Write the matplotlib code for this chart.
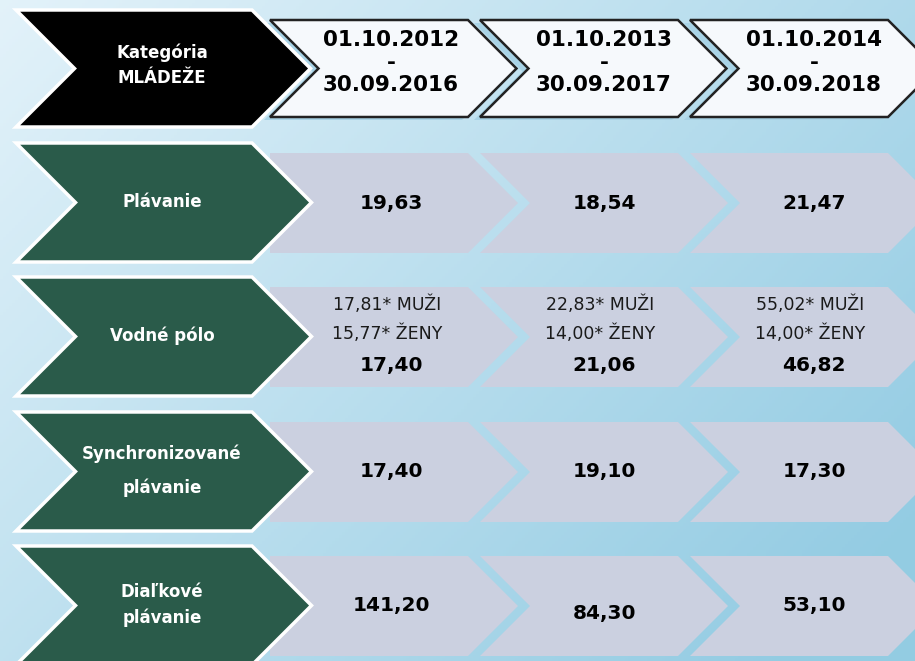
import numpy as np
import matplotlib.pyplot as plt
from matplotlib.patches import Polygon

# --- data ---
corner_label = ["Kategória", "MLÁDEŽE"]
periods = [("01.10.2012", "30.09.2016"),
           ("01.10.2013", "30.09.2017"),
           ("01.10.2014", "30.09.2018")]
sports = ["Plávanie", "Vodné pólo", "Synchronizované\nplávanie", "Diaľkové\nplávanie"]
totals = [["19,63", "18,54", "21,47"],
          ["17,40", "21,06", "46,82"],
          ["17,40", "19,10", "17,30"],
          ["141,20", "84,30", "53,10"]]
polo_men = ["17,81* MUŽI", "22,83* MUŽI", "55,02* MUŽI"]
polo_women = ["15,77* ŽENY", "14,00* ŽENY", "14,00* ŽENY"]

W, H = 915, 661
GREEN = "#2a5b4a"
GRAY = "#cbd0e0"
FONT = "DejaVu Sans"


def chevron(x0, y0, w, h, notch=True):
    # x0 = top-left corner, w = top edge length, tip sticks out by h/2
    d = h / 2
    pts = [(x0, y0), (x0 + w, y0), (x0 + w + d, y0 + d), (x0 + w, y0 + h), (x0, y0 + h)]
    if notch:
        pts.append((x0 + d, y0 + d))
    return pts


fig = plt.figure(figsize=(W / 100, H / 100), dpi=100)
ax = fig.add_axes([0, 0, 1, 1])
ax.set_xlim(0, W)
ax.set_ylim(H, 0)
ax.axis("off")

# background gradient
xx, yy = np.meshgrid(np.linspace(0, 1, 300), np.linspace(0, 1, 220))
t = np.clip(0.65 * xx + 0.45 * yy, 0, 1)[..., None]
c0 = np.array([0.89, 0.95, 0.98])
c1 = np.array([0.58, 0.80, 0.89])
ax.imshow(c0 * (1 - t) + c1 * t, extent=[0, W, H, 0], aspect="auto", zorder=0)

col_x = [270, 480, 690]
col_w = 198
text_cx = [391, 604, 814]

# header row
ax.add_patch(Polygon(chevron(16, 10, 236, 117), closed=True, fc="black", ec="white", lw=2.5, zorder=3))
ax.text(162, 53, corner_label[0], color="white", fontsize=12, fontweight="bold", family=FONT,
        ha="center", va="center", zorder=5)
ax.text(162, 78, corner_label[1], color="white", fontsize=12, fontweight="bold", family=FONT,
        ha="center", va="center", zorder=5)
for i, (a, b) in enumerate(periods):
    ax.add_patch(Polygon(chevron(col_x[i] - 6, 23, col_w, 97), closed=True, fc="#a8d3e6", ec="none", zorder=1))
    ax.add_patch(Polygon(chevron(col_x[i], 20, col_w, 97), closed=True, fc="#f6f9fc", ec="#222222", lw=1.8, zorder=2))
    ax.text(text_cx[i], 40, a, fontsize=15.5, fontweight="bold", family=FONT, ha="center", va="center", zorder=5)
    ax.text(text_cx[i], 63, "-", fontsize=15.5, fontweight="bold", family=FONT, ha="center", va="center", zorder=5)
    ax.text(text_cx[i], 85, b, fontsize=15.5, fontweight="bold", family=FONT, ha="center", va="center", zorder=5)

# data rows
row_top = [143, 277, 412, 546]
label_spacing = [1.2, 1.2, 2.1, 1.45]
for r, sport in enumerate(sports):
    y0 = row_top[r]
    ax.add_patch(Polygon(chevron(16, y0, 236, 119), closed=True, fc=GREEN, ec="white", lw=2.5, zorder=3))
    ax.text(162, y0 + 59, sport, color="white", fontsize=12, fontweight="bold", family=FONT,
            ha="center", va="center", linespacing=label_spacing[r], zorder=5)
    for i in range(3):
        ax.add_patch(Polygon(chevron(col_x[i], y0 + 10, col_w, 100, notch=(i > 0)), closed=True,
                             fc=GRAY, ec="none", zorder=2))
        if r == 1:
            ax.text(text_cx[i] - 4, y0 + 28, polo_men[i], fontsize=12.5, family=FONT,
                    ha="center", va="center", color="#1a1a1a", zorder=5)
            ax.text(text_cx[i] - 4, y0 + 57, polo_women[i], fontsize=12.5, family=FONT,
                    ha="center", va="center", color="#1a1a1a", zorder=5)
            ax.text(text_cx[i], y0 + 88, totals[r][i], fontsize=14.5, fontweight="bold", family=FONT,
                    ha="center", va="center", zorder=5)
        else:
            dy = 8 if (r == 3 and i == 1) else 0
            ax.text(text_cx[i], y0 + 60 + dy, totals[r][i], fontsize=14.5, fontweight="bold", family=FONT,
                    ha="center", va="center", zorder=5)

fig.savefig("out.png", dpi=100)
